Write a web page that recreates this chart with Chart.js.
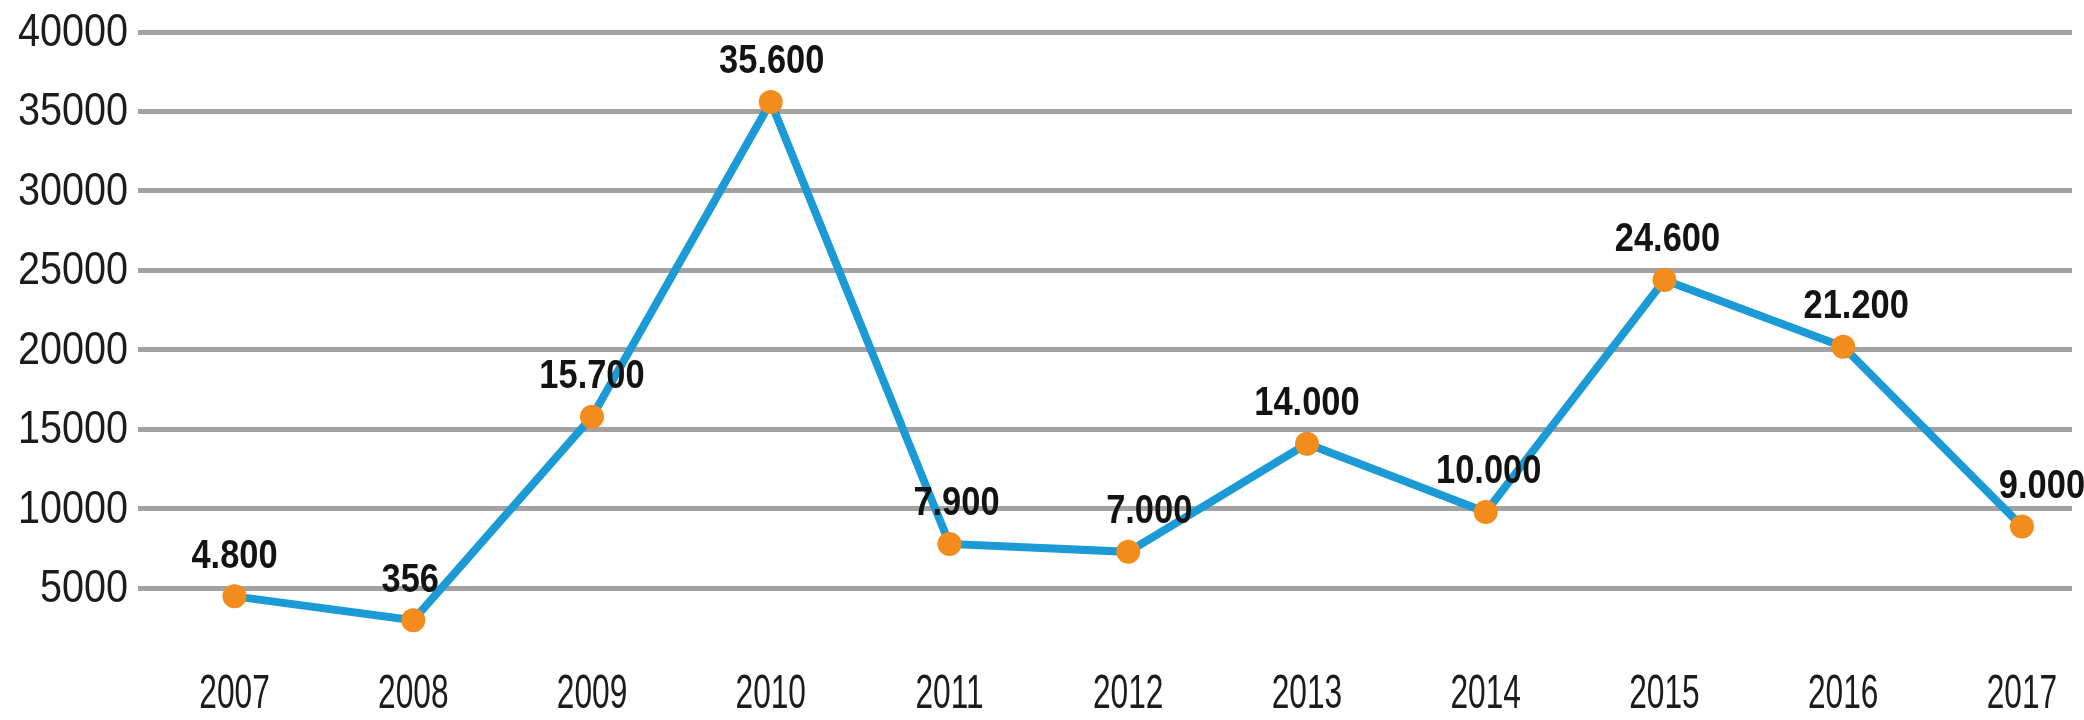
<!DOCTYPE html>
<html>
<head>
<meta charset="utf-8">
<script src="https://cdn.jsdelivr.net/npm/chart.js@4/dist/chart.umd.min.js"></script>
<style>
  html, body { margin: 0; padding: 0; background: #fff; }
  #wrap { width: 2084px; height: 720px; }
</style>
</head>
<body>
<div id="wrap"><canvas id="lineChart" width="2084" height="720"></canvas></div>
<script>
"use strict"
//values
var years = [2007, 2008, 2009, 2010, 2011, 2012, 2013, 2014, 2015, 2016, 2017];
var values = [4500, 3000, 15800, 35600, 7800, 7300, 14100, 9800, 24400, 20200, 8900];
var valueLabels = ["4.800", "356", "15.700", "35.600", "7.900", "7.000", "14.000", "10.000", "24.600", "21.200", "9.000"];
var yTicks = [5000, 10000, 15000, 20000, 25000, 30000, 35000, 40000];

//small sideways nudge of each point label, in px (style only)
var labelNudge = [0, -3, 0, 1, 7, 21, 0, 3, 3, 13, 20];

var face = "'Liberation Sans', Arial, sans-serif";

//the picture uses a condensed face, so squeeze the text sideways
function squeezed(ctx, txt, x, y, sx, align) {
  ctx.save();
  ctx.translate(x, y);
  ctx.scale(sx, 1);
  ctx.textAlign = align;
  ctx.fillText(txt, 0, 0);
  ctx.restore();
}

//axis labels + number above every point
var textLayer = {
  id: "textLayer",
  afterDraw: function(chart) {
    var ctx = chart.ctx;
    var xs = chart.scales.x, ys = chart.scales.y;
    ctx.save();
    ctx.textBaseline = "middle";
    ctx.fillStyle = "#1c1c1c";

    ctx.font = "46px " + face;
    yTicks.forEach(function(v) {
      squeezed(ctx, String(v), 128, ys.getPixelForValue(v) + 1, 0.86, "right");
    });

    ctx.font = "48px " + face;
    years.forEach(function(v) {
      squeezed(ctx, String(v), xs.getPixelForValue(v), 695, 0.66, "center");
    });

    ctx.font = "bold 41px " + face;
    ctx.fillStyle = "#131313";
    chart.getDatasetMeta(0).data.forEach(function(pt, i) {
      squeezed(ctx, valueLabels[i], pt.x + labelNudge[i], pt.y - 40, 0.84, "center");
    });
    ctx.restore();
  }
};

var lineC = document.getElementById("lineChart");
var lineChart = new Chart(lineC, {
  type: "line",
  data: {
    datasets: [{
      data: years.map(function(y, i) { return {x: y, y: values[i]}; }),
      borderColor: "#1b9ad6",
      borderWidth: 8,
      tension: 0,
      pointRadius: 12,
      pointBorderWidth: 0,
      pointBackgroundColor: "#f28c1c",
      pointBorderColor: "#f28c1c"
    }]
  },
  options: {
    responsive: false,
    animation: false,
    layout: { padding: { top: 32, right: 0, bottom: 0, left: 0 } },
    plugins: {
      legend: { display: false },
      tooltip: { enabled: false }
    },
    scales: {
      x: {
        type: "linear",
        min: 2006.46,
        max: 2017.28,
        afterBuildTicks: function(s) { s.ticks = years.map(function(v) { return {value: v}; }); },
        afterFit: function(s) { s.height = 68; },
        grid: { display: false, drawTicks: false },
        border: { display: false },
        ticks: { display: false }
      },
      y: {
        min: 1000,
        max: 40000,
        afterBuildTicks: function(s) { s.ticks = yTicks.map(function(v) { return {value: v}; }); },
        afterFit: function(s) { s.width = 138; },
        grid: { color: "#a2a2a2", lineWidth: 5, drawTicks: false },
        border: { display: false },
        ticks: { display: false }
      }
    }
  },
  plugins: [textLayer]
});
</script>
</body>
</html>
